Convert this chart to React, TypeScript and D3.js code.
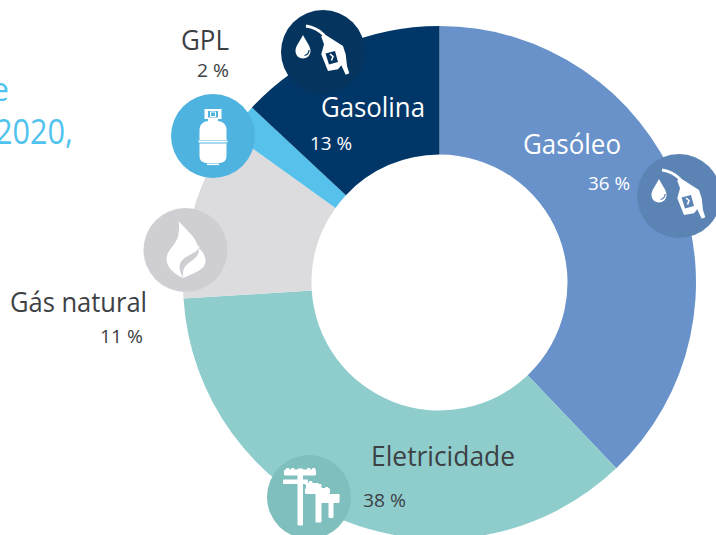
import React from "react";
import * as d3 from "d3";

const categories = ["Gasóleo", "Eletricidade", "Gás natural", "GPL", "Gasolina"];
const sliceValues = [37.9, 36.1, 10.9, 2.05, 13.05];
const percentLabels = ["36 %", "38 %", "11 %", "2 %", "13 %"];
const sliceColors = ["#6892c9", "#8fcdcd", "#dcdcde", "#56c1ea", "#003768"];
const badgeColors = ["#5b84b5", "#7fbfbd", "#cfcfd3", "#4fb3e0", "#05345f"];
const titleFragments = ["e", "2020,"];

const FONT = "'Open Sans', 'Noto Sans', sans-serif";
const DARK = "#3d4144";
const W = 716, H = 535, CX = 439.5, CY = 282.5, R0 = 128, R1 = 256.5;

const pieGen = d3.pie<number>().sort(null).value((d) => d);
const arcGen = d3.arc<d3.PieArcDatum<number>>().innerRadius(R0).outerRadius(R1);

function Pump({ x, y, bg }: { x: number; y: number; bg: string }) {
  return (
    <g transform={`translate(${x},${y})`} fill="#fff">
      <circle r={42} fill={bg} />
      <path d="M-20,-17 C-17,-11 -12.5,-6 -12.5,-1 C-12.5,3.5 -16,6.5 -20,6.5 C-24,6.5 -27.5,3.5 -27.5,-1 C-27.5,-6 -23,-11 -20,-17Z" />
      <path d="M-14,-2 C-14,1 -16,3 -18.5,3.5" fill="none" stroke={bg} strokeWidth={1.2} />
      <path d="M-17,-26 C-10,-25 -4,-22 1,-17" fill="none" stroke="#fff" strokeWidth={2.8} />
      <path d="M0.3,-18.7 L4.3,-16 L20,-6 L22.7,2.3 L24,14 L26.3,21.3 L22.7,22.7 L18.3,13.3 L15,17.3 L5,19 L-1.7,2.3 L1,-7.7 L-1.7,-15.3Z" />
      <path d="M2.5,1.5 L12,-1 L15,10 L6,12.5Z" fill={bg} />
      <path d="M7,2 L10,4.5 L8.5,8.5" fill="none" stroke="#fff" strokeWidth={1.6} />
    </g>
  );
}

function Cylinder({ x, y, bg }: { x: number; y: number; bg: string }) {
  return (
    <g transform={`translate(${x},${y})`} fill="#fff">
      <circle r={42} fill={bg} />
      <path d="M-8.5,-27 H8.5 V-17 H5 V-14.5 H-5 V-17 H-8.5Z" />
      <rect x={-5} y={-25} width={10} height={6.5} fill={bg} />
      <path d="M-2.5,-24 H2.5 V-19.5 H-2.5Z" fill="none" stroke="#fff" strokeWidth={1} />
      <path d="M-13.5,4 V-6 C-13.5,-12 -9,-15 -4,-15 H4 C9,-15 13.5,-12 13.5,-6 V4Z" />
      <rect x={-14.5} y={4.5} width={29} height={2} />
      <path d="M-13.5,7.5 H13.5 V20 C13.5,25 10,27 6,27 H-6 C-10,27 -13.5,25 -13.5,20Z" />
      <rect x={-6} y={27.5} width={12} height={1.6} />
    </g>
  );
}

function Flame({ x, y, bg }: { x: number; y: number; bg: string }) {
  return (
    <g transform={`translate(${x},${y})`}>
      <circle r={42} fill={bg} />
      <path
        fill="#fff"
        d="M-7,-29 C0,-21 9,-14 12,-5 C14,-3 15,-3 13,-2 C15,-1 20,4 20,11 C20,20 8,23 -2,28 C-10,25 -19,18 -19,9 C-19,0 -8,-6 -7,-16 C-6.5,-21 -6,-25 -7,-29Z"
      />
      <path
        fill={bg}
        d="M13,-2 C10,5 -6,6 -6,17 C-6,21 -4,25 -2,28 C-3,23 -3,18 2,14 C7,10 15,6 13,-2Z"
      />
    </g>
  );
}

const insulators = [
  [-23, -29], [-18, -29], [-2, -29], [3, -29],
  [0, -16], [-4, -15], [6, -11], [16, -10],
  [13, -3], [22, -3], [27, -3],
];

function Poles({ x, y, bg }: { x: number; y: number; bg: string }) {
  return (
    <g transform={`translate(${x},${y})`} fill="#fff">
      <circle r={42} fill={bg} />
      <rect x={-11.5} y={-28.5} width={5.5} height={57} rx={1} />
      <rect x={-25} y={-27.5} width={32} height={6} rx={1.5} />
      <rect x={-26} y={-17.5} width={25} height={4.5} rx={1} />
      <rect x={6.5} y={-13} width={6} height={38.5} rx={1} />
      <rect x={-3} y={-14} width={13} height={6} rx={1} />
      <rect x={-4} y={-9} width={25} height={6} rx={1.5} />
      <rect x={19.5} y={0} width={5} height={21} rx={1} />
      <rect x={9.5} y={-3} width={21} height={9} rx={1.5} />
      {insulators.map(([ix, iy], i) => (
        <rect key={i} x={ix} y={iy} width={3.4} height={3} rx={1} />
      ))}
    </g>
  );
}

export default function App() {
  const slices = pieGen(sliceValues);
  const big = { fontFamily: FONT, fontSize: 27, lengthAdjust: "spacingAndGlyphs" as const };
  const small = { fontFamily: FONT, fontSize: 19, lengthAdjust: "spacingAndGlyphs" as const };
  return (
    <svg
      width={W}
      height={H}
      viewBox={`0 0 ${W} ${H}`}
      style={{ position: "absolute", left: 0, top: 0, background: "#fff", overflow: "hidden" }}
    >
      <g transform={`translate(${CX},${CY})`}>
        {slices.map((s, i) => (
          <path key={categories[i]} d={arcGen(s) ?? ""} fill={sliceColors[i]} />
        ))}
      </g>

      <text x={9} y={101} textAnchor="end" fontFamily={FONT} fontSize={33} fill="#4fc3ee">{titleFragments[0]}</text>
      <text x={-5} y={144} textLength={78} lengthAdjust="spacingAndGlyphs" fontFamily={FONT} fontSize={34} fill="#4fc3ee">{titleFragments[1]}</text>

      <Pump x={323} y={52} bg={badgeColors[4]} />
      <Cylinder x={213} y={136} bg={badgeColors[3]} />
      <Flame x={185.5} y={250} bg={badgeColors[2]} />
      <Poles x={309} y={497} bg={badgeColors[1]} />
      <Pump x={679} y={196} bg={badgeColors[0]} />

      <text x={321} y={117} textLength={104} {...big} fill="#fff">{categories[4]}</text>
      <text x={310} y={150} textLength={42} {...small} fill="#fff">{percentLabels[4]}</text>
      <text x={523} y={154} textLength={98} {...big} fill="#fff">{categories[0]}</text>
      <text x={588} y={190} textLength={42} {...small} fill="#fff">{percentLabels[0]}</text>
      <text x={371} y={466} textLength={144} {...big} fill={DARK}>{categories[1]}</text>
      <text x={363} y={507} textLength={43} {...small} fill={DARK}>{percentLabels[1]}</text>
      <text x={10} y={312} textLength={137} {...big} fill={DARK}>{categories[2]}</text>
      <text x={100} y={343} textLength={43} {...small} fill={DARK}>{percentLabels[2]}</text>
      <text x={181} y={50} textLength={48} {...big} fill={DARK}>{categories[3]}</text>
      <text x={197} y={77} textLength={32} {...small} fill={DARK}>{percentLabels[3]}</text>
    </svg>
  );
}
